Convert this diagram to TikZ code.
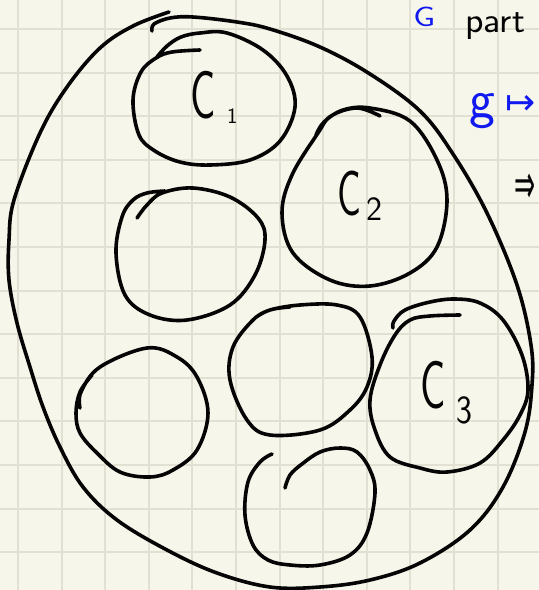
\documentclass[tikz,border=0pt]{standalone}
\usepackage{fontspec}
\newfontfamily\symfont{DejaVu Sans}
\definecolor{paper}{RGB}{247,246,234}
\definecolor{gridc}{RGB}{225,224,211}
\definecolor{ink}{RGB}{5,5,5}
\definecolor{penblue}{RGB}{15,25,240}
\tikzset{
  stroke/.style={draw=ink, line width=3.6pt, line cap=round, line join=round},
  gridline/.style={draw=gridc, line width=2pt},
  lbl/.style={text=ink, inner sep=0pt, anchor=base west},
  bluelbl/.style={text=penblue, inner sep=0pt, anchor=base west},
}
\newcommand{\fsz}[1]{\fontsize{#1}{#1}\selectfont}
\begin{document}
\begin{tikzpicture}[x=1pt,y=-1pt]
\useasboundingbox (0,0) rectangle (539,590);
\clip (0,0) rectangle (539,590);
\fill[paper] (0,0) rectangle (539,590);
\foreach \i in {0,...,11} \draw[gridline] ({18+43.6*\i},0) -- ({18+43.6*\i},590);
\foreach \j in {0,...,12} \draw[gridline] (0,{29+43.6*\j}) -- (539,{29+43.6*\j});

% outer blob
\draw[stroke] plot[smooth, tension=0.6] coordinates {
 (152,31) (154,24) (170,18) (193,17) (237,22) (270,29) (320,47) (370,74) (420,111)
 (453,154) (487,213) (517,285) (531,345) (532,385) (525,432) (503,487) (470,530)
 (420,563) (370,580) (320,587) (270,587) (217,573) (167,550) (117,520) (83,487)
 (60,447) (43,407) (30,367) (17,323) (9,280) (9,240) (14,200) (40,133) (67,87)
 (100,48) (133,26) (169,12)};

% C1
\draw[stroke] plot[smooth, tension=0.6] coordinates {
 (200,50) (172,52) (156,58) (141,72) (133,100) (139,135) (155,151) (180,162)
 (210,165) (250,160) (280,141) (295,107) (287,76) (263,50) (227,33) (200,33)
 (181,37) (167,46) (157,57)};

% C2
\draw[stroke] plot[smooth, tension=0.6] coordinates {
 (380,116) (357,108) (331,116) (318,133) (292,175) (282,213) (293,253) (330,280)
 (370,286) (410,273) (437,247) (447,200) (437,160) (410,121) (370,108) (343,110)
 (324,122) (316,135)};

% left middle circle
\draw[stroke] plot[smooth, tension=0.6] coordinates {
 (137,218) (147,205) (162,193) (193,188) (230,197) (258,218) (265,240) (255,275)
 (230,305) (187,320) (150,315) (125,295) (116,253) (122,217) (133,200) (147,193)
 (165,191)};

% lower left circle
\draw[stroke] plot[smooth, tension=0.6] coordinates {
 (80,408) (81,392) (100,367) (147,348) (177,357) (197,377) (208,413) (197,450)
 (173,470) (150,477) (120,472) (97,453) (80,433) (76,413) (80,392) (92,375)};

% middle circle
\draw[stroke] plot[smooth, tension=0.6] coordinates {
 (290,307) (270,310) (253,320) (233,347) (230,380) (247,420) (270,435) (320,430)
 (350,410) (367,387) (372,357) (360,317) (337,305) (300,305) (270,310) (255,318)};

% C3
\draw[stroke] plot[smooth, tension=0.6] coordinates {
 (460,315) (430,316) (410,320) (395,335) (380,365) (370,400) (375,430) (390,457)
 (420,468) (447,472) (480,463) (503,440) (520,415) (528,390) (522,355) (503,320)
 (480,303) (455,299) (430,302) (405,310) (394,321) (393,328)};

% bottom circle
\draw[stroke] plot[smooth, tension=0.6] coordinates {
 (285,488) (290,475) (302,464) (320,452) (340,448) (357,452) (370,470) (375,493)
 (367,533) (350,555) (320,565) (290,565) (268,560) (253,545) (245,515) (248,482)
 (260,462) (272,454)};

% labels
\node[lbl, font=\sffamily\fsz{68}, xscale=0.62] (c1) at (190,118) {C};
\node[lbl, font=\sffamily\fsz{22}] (c1s) at (227,123) {1};
\node[lbl, font=\sffamily\fsz{64}, xscale=0.62] (c2) at (337,215) {C};
\node[lbl, font=\sffamily\fsz{34}] (c2s) at (366,220) {2};
\node[lbl, font=\sffamily\fsz{68}, xscale=0.62] (c3) at (420,408) {C};
\node[lbl, font=\sffamily\fsz{40}, xscale=0.85] (c3s) at (456,423) {3};

\node[bluelbl, font=\sffamily\fsz{28}, xscale=1.25] (G) at (413,26) {G};
\node[lbl, font=\sffamily\fsz{36}, xscale=1.06] (part) at (465,32) {part};
\node[bluelbl, font=\sffamily\fsz{55}] (g) at (469,117) {g};
\node[bluelbl, font=\symfont\fsz{36}] (mapsto) at (505,114) {↦};
\node[lbl, font=\symfont\fsz{56}, xscale=0.45] (impl) at (514,203) {⇒};
\end{tikzpicture}
\end{document}
